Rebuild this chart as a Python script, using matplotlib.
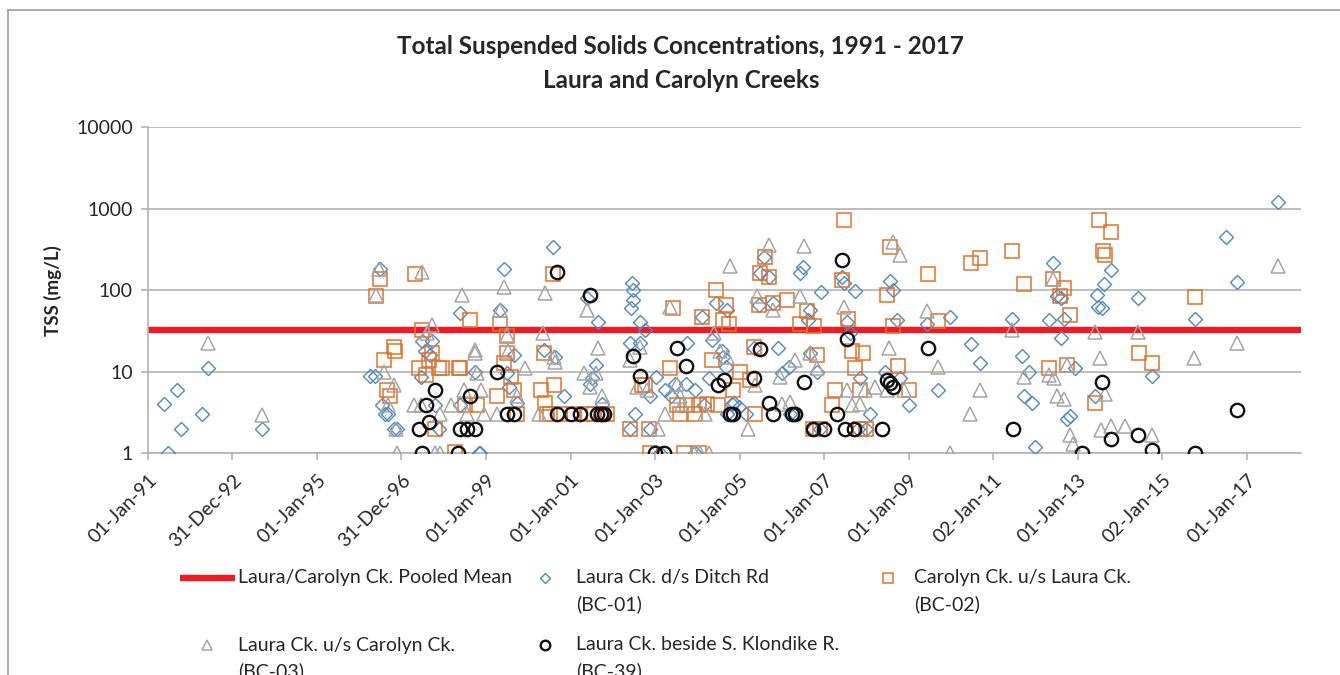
import matplotlib
matplotlib.use("Agg")
import matplotlib.pyplot as plt
import matplotlib.dates as mdates
from matplotlib.lines import Line2D
import numpy as np
import pandas as pd

plt.rcParams['font.family'] = ['Lato', 'DejaVu Sans']

# pooled mean TSS for Laura/Carolyn (mg/L)
pooled_mean = 32.6

# sample dates as decimal years, TSS in mg/L
bc01_yr = [1991.39, 1991.48, 1991.69, 1991.77, 1992.28, 1992.42, 1993.69,
           1996.26, 1996.38, 1996.48, 1996.54, 1996.62, 1996.67, 1996.81, 1996.90,
           1997.45, 1997.49, 1997.56, 1997.68, 1997.72, 1997.80, 1997.88,
           1998.39, 1998.39, 1998.75, 1998.83, 1998.86,
           1999.34, 1999.43, 1999.50, 1999.54, 1999.65, 1999.73,
           2000.36, 2000.59, 2000.64, 2000.85,
           2001.39, 2001.47, 2001.51, 2001.59, 2001.66, 2001.75,
           2002.40, 2002.40, 2002.44, 2002.45, 2002.47, 2002.47, 2002.52, 2002.65, 2002.65, 2002.77, 2002.89, 2002.89,
           2003.01, 2003.12, 2003.24, 2003.38, 2003.48, 2003.72, 2003.76, 2003.95, 2003.95,
           2004.11, 2004.15, 2004.27, 2004.35, 2004.43, 2004.58, 2004.60, 2004.68, 2004.70, 2004.70, 2004.82, 2004.86, 2004.98,
           2005.14, 2005.33, 2005.45, 2005.49, 2005.57, 2005.69, 2005.80, 2005.92,
           2006.00, 2006.16, 2006.20, 2006.32, 2006.44, 2006.51, 2006.63, 2006.67, 2006.67, 2006.74, 2006.83, 2006.90, 2006.93,
           2007.42, 2007.46, 2007.54, 2007.62, 2007.72, 2007.80, 2007.86,
           2008.00, 2008.09, 2008.45, 2008.55, 2008.64, 2008.72, 2008.80,
           2009.00, 2009.43, 2009.69, 2009.97,
           2010.47, 2010.70,
           2011.44, 2011.68, 2011.72, 2011.84, 2011.93,
           2012.00, 2012.33, 2012.42, 2012.51, 2012.60, 2012.60, 2012.67, 2012.75, 2012.82, 2012.94,
           2013.42, 2013.46, 2013.49, 2013.57, 2013.63, 2013.79,
           2014.43, 2014.77, 2015.77, 2016.52, 2016.77, 2017.75]
bc01_tss = [4, 1, 6, 2, 3, 11, 2,
            9, 9, 182, 3.9, 3, 3, 2, 2,
            8.7, 24, 18, 16, 24, 3.9, 2,
            53, 3.9, 10, 1, 1,
            58, 180, 9.6, 6.6, 16, 4.1,
            18.5, 343, 15, 5,
            80, 7, 8.3, 12, 41, 4,
            22.8, 2, 60, 122, 100, 76, 3, 41, 22.8, 33, 5, 2,
            8.7, 1, 6, 5, 7, 7, 22.4, 6, 1,
            47, 3.9, 8.3, 24.5, 69, 18, 15, 11.6, 57, 3, 4, 4.1, 3.7,
            3, 19.4, 66, 162, 258, 147, 69, 19.4,
            9.6, 11.6, 3, 3, 162, 195, 43, 57, 17, 2, 10, 2, 96,
            147, 122, 41, 30, 98, 2, 8.3,
            2, 3, 10, 129, 100, 43, 8.3,
            3.9, 39, 5.9, 47,
            21.8, 12.7,
            44.5, 15.6, 5.1, 10, 4.2,
            1.18, 43, 215, 84, 80, 26, 44, 2.6, 2.9, 11,
            5, 87, 63, 60, 120, 178,
            80, 9, 44, 446, 127, 1220]

bc02_yr = [1996.39, 1996.48, 1996.58, 1996.66, 1996.72, 1996.81, 1996.84,
           1997.31, 1997.41, 1997.49, 1997.57, 1997.64, 1997.72, 1997.80, 1997.88, 1997.96,
           1998.27, 1998.35, 1998.39, 1998.51, 1998.63, 1998.79,
           1999.26, 1999.34, 1999.42, 1999.50, 1999.50, 1999.58, 1999.65, 1999.73,
           2000.29, 2000.36, 2000.40, 2000.45, 2000.52, 2000.59, 2000.60, 2000.76,
           2001.07, 2001.39, 2001.55, 2001.75, 2001.86,
           2002.40, 2002.69, 2002.77, 2002.85, 2002.89,
           2003.36, 2003.42, 2003.52, 2003.60, 2003.68, 2003.76, 2003.95,
           2004.03, 2004.03, 2004.11, 2004.23, 2004.35, 2004.43, 2004.50, 2004.61, 2004.68, 2004.74, 2004.84,
           2005.00, 2005.25, 2005.33, 2005.36, 2005.45, 2005.49, 2005.59, 2005.69, 2005.80,
           2006.11, 2006.44, 2006.60, 2006.74, 2006.75, 2006.83, 2006.90,
           2007.19, 2007.26, 2007.42, 2007.48, 2007.56, 2007.66, 2007.72, 2007.86, 2007.86, 2007.93,
           2008.00, 2008.49, 2008.55, 2008.64, 2008.74,
           2009.00, 2009.45, 2009.69,
           2010.47, 2010.70,
           2011.45, 2011.72,
           2012.33, 2012.42, 2012.59, 2012.68, 2012.75, 2012.81,
           2013.42, 2013.51, 2013.59, 2013.64, 2013.79,
           2014.44, 2014.77, 2015.77]
bc02_tss = [84, 138, 14, 6, 5, 20, 18,
            158, 11, 33, 9.1, 14, 17, 2, 11, 11,
            1.05, 11, 11, 3.9, 43, 3.9,
            5, 39, 12.7, 27.5, 17, 8.7, 6, 3,
            6, 17, 4.1, 3, 3, 158, 6.9, 3,
            3, 3, 3, 3, 3,
            2, 6.9, 6.9, 2, 1,
            11, 60, 3.9, 3, 1, 3.9, 3,
            3.9, 1, 47, 4, 14, 100, 3.9, 43, 66, 39, 6,
            10, 7.9, 20, 3, 66, 162, 258, 147, 69,
            76, 39, 55, 2, 36, 16, 2,
            3.9, 6, 135, 728, 44, 18, 11, 6, 2, 17,
            2, 87, 343, 36, 11.8,
            6, 158, 42,
            215, 246,
            307, 118,
            11, 139, 84, 106, 12.1, 50,
            4.1, 725, 307, 270, 526,
            16.9, 13, 82]

bc03_yr = [1992.43, 1993.69,
           1996.39, 1996.47, 1996.58, 1996.67, 1996.82, 1996.86, 1996.90,
           1997.29, 1997.45, 1997.49, 1997.60, 1997.72, 1997.80, 1997.92, 1997.92,
           1998.16, 1998.43, 1998.47, 1998.55, 1998.75, 1998.75, 1998.79, 1998.87, 1998.94,
           1999.26, 1999.34, 1999.43, 1999.50, 1999.52, 1999.73, 1999.93,
           2000.25, 2000.35, 2000.40, 2000.60, 2000.64,
           2001.31, 2001.39, 2001.47, 2001.59, 2001.66, 2001.75,
           2002.40, 2002.57, 2002.65, 2002.81,
           2003.08, 2003.24, 2003.36, 2003.52, 2003.60, 2003.64, 2003.91,
           2004.07, 2004.19, 2004.27, 2004.39, 2004.54, 2004.70, 2004.77,
           2005.21, 2005.37, 2005.41, 2005.69, 2005.80, 2005.96,
           2006.00, 2006.20, 2006.32, 2006.44, 2006.52, 2006.67, 2006.83,
           2007.46, 2007.55, 2007.66, 2007.86, 2007.97,
           2008.21, 2008.49, 2008.53, 2008.63, 2008.80, 2008.88,
           2009.43, 2009.69, 2009.97,
           2010.46, 2010.68,
           2011.44, 2011.72,
           2012.33, 2012.42, 2012.45, 2012.51, 2012.68, 2012.75, 2012.81, 2012.90,
           2013.42, 2013.52, 2013.55, 2013.65, 2013.79,
           2014.11, 2014.43, 2014.77,
           2015.76, 2016.77, 2017.75]
bc03_tss = [22.8, 2.95,
            87, 180, 10, 3.9, 6.9, 2, 1,
            3.9, 3.9, 169, 29.7, 37.5, 1, 3, 1,
            3.9, 87, 6, 3, 18.5, 17, 9.6, 6, 3,
            3, 58, 111, 28.4, 18, 5, 11,
            3, 29.7, 92, 15, 13.3,
            9.6, 57, 6.6, 9.6, 19.4, 5,
            14, 6.6, 20.3, 6,
            2, 3, 63, 7, 5, 4, 1,
            1, 3, 1, 29.7, 18, 15, 200,
            2, 6.9, 84, 360, 57, 8.7,
            4, 4.3, 14, 84, 350, 17, 11,
            63, 6, 3.9, 4, 6,
            6.6, 6, 19.4, 395, 270, 6,
            55, 11.6, 1,
            3, 5.9,
            32.6, 8.7,
            9.1, 139, 8.3, 5, 4.6, 12, 1.7, 1.3,
            31, 14.6, 1.93, 5.4, 2.16,
            2.16, 31, 1.68,
            14.6, 22.8, 200]

bc39_yr = [1997.41, 1997.49, 1997.59, 1997.64, 1997.80,
           1998.33, 1998.39, 1998.55, 1998.63, 1998.75,
           1999.26, 1999.50, 1999.65,
           2000.68, 2000.68,
           2001.00, 2001.23, 2001.47, 2001.63, 2001.71, 2001.78,
           2002.48, 2002.65, 2002.99,
           2003.22, 2003.53, 2003.72,
           2004.50, 2004.62, 2004.78, 2004.84,
           2005.33, 2005.49, 2005.69, 2005.80,
           2006.24, 2006.32, 2006.52, 2006.74, 2006.99,
           2007.30, 2007.42, 2007.50, 2007.55, 2007.70,
           2008.37, 2008.49, 2008.57, 2008.64,
           2009.45, 2011.46, 2013.10, 2013.57, 2013.79,
           2014.43, 2014.77, 2015.77, 2016.77]
bc39_tss = [2, 1, 3.9, 2.44, 6,
            1, 2, 2, 5, 2,
            10, 3, 3,
            169, 3,
            3, 3, 87, 3, 3, 3,
            15.8, 8.9, 1,
            1, 19.8, 11.8,
            6.9, 7.9, 3, 3,
            8.3, 18.9, 4.2, 3,
            3, 3, 7.6, 2, 2,
            3, 236, 2, 25.6, 2,
            2, 7.9, 7.2, 6.6,
            19.8, 2, 1, 7.6, 1.48,
            1.68, 1.1, 1, 3.4]

x_tick_labels = ['01-Jan-91', '31-Dec-92', '01-Jan-95', '31-Dec-96', '01-Jan-99',
                 '01-Jan-01', '01-Jan-03', '01-Jan-05', '01-Jan-07', '01-Jan-09',
                 '02-Jan-11', '01-Jan-13', '02-Jan-15', '01-Jan-17']
y_ticks = [1, 10, 100, 1000, 10000]

GRID = '#b3b3b3'
TEXT = '#262626'
FS = 14

series = [
    ('Laura Ck. d/s Ditch Rd', '(BC-01)', bc01_yr, bc01_tss, 'D', 7.2, '#4f88c6', 1.0),
    ('Carolyn Ck. u/s Laura Ck.', '(BC-02)', bc02_yr, bc02_tss, 's', 10.0, '#e1712b', 1.1),
    ('Laura Ck. u/s Carolyn Ck.', '(BC-03)', bc03_yr, bc03_tss, '^', 10.0, '#a5a5a5', 1.1),
    ('Laura Ck. beside S. Klondike R.', '(BC-39)', bc39_yr, bc39_tss, 'o', 9.6, '#111111', 1.7),
]


def to_dates(years):
    years = np.asarray(years, dtype=float)
    return (pd.Timestamp('1991-01-01') + pd.to_timedelta((years - 1991) * 365.25, unit='D')).to_numpy()


fig = plt.figure(figsize=(13.4, 6.75), dpi=100)
W, H = 1340, 675
ax = fig.add_axes([148 / W, 1 - 453.3 / H, 1153 / W, 326 / H])

x0 = pd.Timestamp('1991-01-01')
x1 = pd.Timestamp('2018-04-15')
ax.plot([x0, x1], [pooled_mean, pooled_mean], color='#ed1c24', lw=4.6, zorder=2,
        solid_capstyle='butt')

for name, code, yr, tss, mk, ms, col, mew in series:
    ax.plot(to_dates(yr), tss, linestyle='none', marker=mk, ms=ms, mfc='none',
            mec=col, mew=mew, zorder=3)

ax.set_yscale('log')
ax.set_ylim(1, 10000)
ax.set_yticks(y_ticks)
ax.set_yticklabels([str(v) for v in y_ticks])
ax.yaxis.set_minor_locator(matplotlib.ticker.NullLocator())
ax.set_xlim(x0, x1)
ticks = pd.to_datetime(x_tick_labels, format='%d-%b-%y')
ax.set_xticks(ticks)
ax.set_xticklabels(x_tick_labels, rotation=45, ha='right', va='top', rotation_mode='anchor')

ax.grid(axis='y', color=GRID, lw=1.2)
ax.set_axisbelow(True)
for s in ['top', 'right']:
    ax.spines[s].set_visible(False)
for s in ['left', 'bottom']:
    ax.spines[s].set_color(GRID)
    ax.spines[s].set_linewidth(1.2)
ax.tick_params(axis='both', colors=GRID, length=5, width=1.2, labelcolor=TEXT, labelsize=FS)
ax.tick_params(axis='x', pad=8)
ax.tick_params(axis='y', pad=6)

ax.set_ylabel('TSS (mg/L)', fontsize=13.5, fontweight='bold', color=TEXT, labelpad=10)

fig.text(681 / W, 1 - 47 / H, 'Total Suspended Solids Concentrations, 1991 - 2017',
         ha='center', va='center', fontsize=17.5, fontweight='bold', color=TEXT)
fig.text(681 / W, 1 - 80 / H, 'Laura and Carolyn Creeks',
         ha='center', va='center', fontsize=17.5, fontweight='bold', color=TEXT)

# chart area border (cropped on right and bottom)
fig.add_artist(Line2D([8 / W, 8 / W], [0, 1 - 10 / H], transform=fig.transFigure, color='#a6a6a6', lw=1.3))
fig.add_artist(Line2D([8 / W, 1], [1 - 10 / H, 1 - 10 / H], transform=fig.transFigure, color='#a6a6a6', lw=1.3))


# legend, laid out like the Excel one
def fx(px):
    return px / W


def fy(py):
    return 1 - py / H


fig.add_artist(Line2D([fx(180), fx(235)], [fy(578), fy(578)], transform=fig.transFigure,
                      color='#ed1c24', lw=4.6, solid_capstyle='butt'))
fig.text(fx(238), fy(578), 'Laura/Carolyn Ck. Pooled Mean', ha='left', va='center',
         fontsize=FS, color=TEXT)

leg_pos = [(545, 578, 576), (888, 578, 914), (207, 645, 238), (545, 645, 576)]
for (name, code, yr, tss, mk, ms, col, mew), (lx, ly, tx) in zip(series, leg_pos):
    fig.add_artist(Line2D([fx(lx)], [fy(ly)], transform=fig.transFigure, linestyle='none',
                          marker=mk, ms=ms * 0.72, mfc='none', mec=col, mew=mew))
    fig.text(fx(tx), fy(ly), name, ha='left', va='center', fontsize=FS, color=TEXT)
    fig.text(fx(tx), fy(ly + 26), code, ha='left', va='center', fontsize=FS, color=TEXT)

fig.savefig('out.png', dpi=100)
